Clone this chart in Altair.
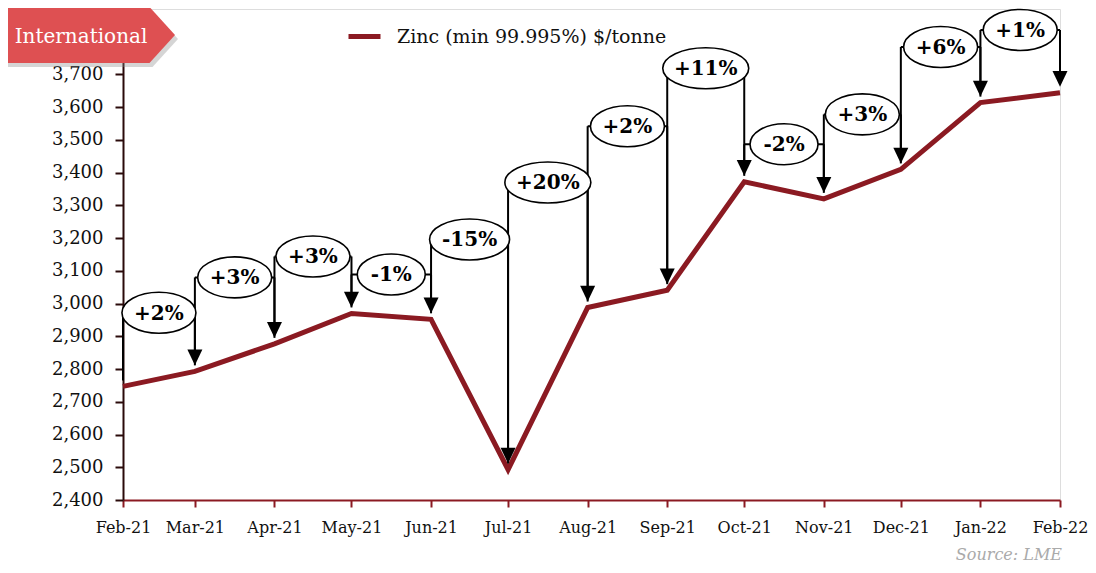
import altair as alt
import pandas as pd

# ---- data ----
months = ["2021-02-01", "2021-03-01", "2021-04-01", "2021-05-01", "2021-06-01",
          "2021-07-01", "2021-08-01", "2021-09-01", "2021-10-01", "2021-11-01",
          "2021-12-01", "2022-01-01", "2022-02-01"]
zinc = [2747, 2793, 2877, 2970, 2952, 2493, 2988, 3041, 3372, 3320, 3410, 3614, 3644]
change_labels = ["+2%", "+3%", "+3%", "-1%", "-15%", "+20%", "+2%", "+11%",
                 "-2%", "+3%", "+6%", "+1%"]
callout_level = [2972, 3080, 3144, 3089, 3196, 3370, 3542, 3719, 3487, 3578, 3784, 3836]
y_ticks = list(range(2400, 3901, 100))
series_name = "Zinc (min 99.995%) $/tonne"

RED = "#8B1A22"
SERIF = "DejaVu Serif"
W, H = 937, 491

ts = [pd.Timestamp(m) for m in months]
iso = [t.strftime("%Y-%m-%dT%H:%M:%S") for t in ts]

line_df = pd.DataFrame({"date": iso, "value": zinc, "series": series_name})

rows = []
for i, lab in enumerate(change_labels):
    mid = ts[i] + (ts[i + 1] - ts[i]) / 2
    rows.append({
        "x0": iso[i], "x1": iso[i + 1], "xm": mid.strftime("%Y-%m-%dT%H:%M:%S"),
        "lvl": callout_level[i], "p0": zinc[i], "p1": zinc[i + 1], "label": lab,
    })
seg = pd.DataFrame(rows)


def ellipse_width(label):
    cw = {"+": 0.7, "-": 0.4, "%": 0.95}
    return round(sum(cw.get(c, 0.65) for c in label) * 19 + 30)


seg["ew"] = seg["label"].map(ellipse_width)

x_scale = alt.Scale(nice=False)
x_axis = alt.Axis(format="%b-%y", tickCount={"interval": "month", "step": 1},
                  labelFont=SERIF, labelFontSize=16, labelColor="#111",
                  domainColor=RED, domainWidth=2, tickColor=RED, tickWidth=2,
                  tickSize=7, labelPadding=12, grid=False, labelFlush=False, title=None)
y_scale = alt.Scale(domain=[2400, 3900], nice=False, zero=False)
y_axis = alt.Axis(values=y_ticks, format=",.0f", labelFont=SERIF, labelFontSize=18,
                  labelColor="#111", domainColor="#2a0a0a", domainWidth=2,
                  tickColor="#2a0a0a", tickWidth=2, tickSize=8, labelPadding=12,
                  grid=False, title=None)


def X(f):
    return alt.X(f, scale=x_scale, axis=x_axis)


def Y(f):
    return alt.Y(f, scale=y_scale, axis=y_axis)


line = alt.Chart(line_df).mark_line(strokeWidth=5, strokeJoin="miter").encode(
    x=X("date:T"), y=Y("value:Q"),
    color=alt.Color("series:N", scale=alt.Scale(range=[RED]),
                    legend=alt.Legend(title=None, orient="none", legendX=223, legendY=9,
                                      symbolType="stroke", symbolSize=1024,
                                      symbolStrokeWidth=5, labelFont=SERIF,
                                      labelFontSize=19, labelColor="#111",
                                      labelOffset=14, labelLimit=0, padding=0)))

base = alt.Chart(seg)
up = base.mark_rule(color="black", strokeWidth=2, y2Offset=-6).encode(
    x=X("x0:T"), y=Y("lvl:Q"), y2="p0:Q")
across = base.mark_rule(color="black", strokeWidth=2).encode(
    x=X("x0:T"), x2="x1:T", y=Y("lvl:Q"))
down = base.mark_rule(color="black", strokeWidth=2, y2Offset=-16).encode(
    x=X("x1:T"), y=Y("lvl:Q"), y2="p1:Q")
heads = base.mark_point(shape="M -1 -2.1 L 1 -2.1 L 0 0 Z", size=225, filled=True,
                        fill="black", opacity=1, strokeWidth=0, yOffset=-6).encode(
    x=X("x1:T"), y=Y("p1:Q"))

ell_layers = []
for w in sorted(seg["ew"].unique()):
    ry = 41 / w
    path = f"M -1 0 A 1 {ry:.4f} 0 1 1 1 0 A 1 {ry:.4f} 0 1 1 -1 0 Z"
    ell_layers.append(
        alt.Chart(seg[seg["ew"] == w]).mark_point(
            shape=path, size=int(w * w), filled=True, fill="white", stroke="black",
            strokeWidth=1.6, opacity=1, fillOpacity=1, strokeOpacity=1).encode(
            x=X("xm:T"), y=Y("lvl:Q")))

texts = base.mark_text(font=SERIF, fontSize=20, fontWeight="bold", color="black",
                       baseline="middle", dy=1).encode(
    x=X("xm:T"), y=Y("lvl:Q"), text="label:N")

banner_df = pd.DataFrame({"t": ["International"]})
banner_path = "M -1 -0.33 L 0.7 -0.33 L 1 0 L 0.7 0.33 L -1 0.33 Z"
shadow = alt.Chart(banner_df).mark_point(
    shape=banner_path, size=28900, filled=True, fill="#888", opacity=0.35,
    strokeWidth=0).encode(x=alt.value(-30), y=alt.value(30))
banner = alt.Chart(banner_df).mark_point(
    shape=banner_path, size=28900, filled=True, fill="#DE5052", opacity=1,
    strokeWidth=0).encode(x=alt.value(-33), y=alt.value(26))
banner_text = alt.Chart(banner_df).mark_text(
    font=SERIF, fontSize=20, color="white", align="center", baseline="middle").encode(
    x=alt.value(-42), y=alt.value(28), text="t:N")

source = alt.Chart(pd.DataFrame({"t": ["Source: LME"]})).mark_text(
    font=SERIF, fontSize=16, fontStyle="italic", color="#aaaaaa", align="right",
    baseline="middle").encode(x=alt.value(W + 2), y=alt.value(H + 55), text="t:N")

chart = alt.layer(
    line, up, across, down, heads, *ell_layers, texts,
    shadow, banner, banner_text, source
).properties(
    width=W, height=H,
    autosize=alt.AutoSizeParams(type="none"),
    padding={"left": 115, "top": 1, "right": 28, "bottom": 65},
).configure_view(stroke=RED, strokeWidth=2).configure(background="white")

chart.save("out.html", embed_options={"renderer": "svg", "actions": False})
